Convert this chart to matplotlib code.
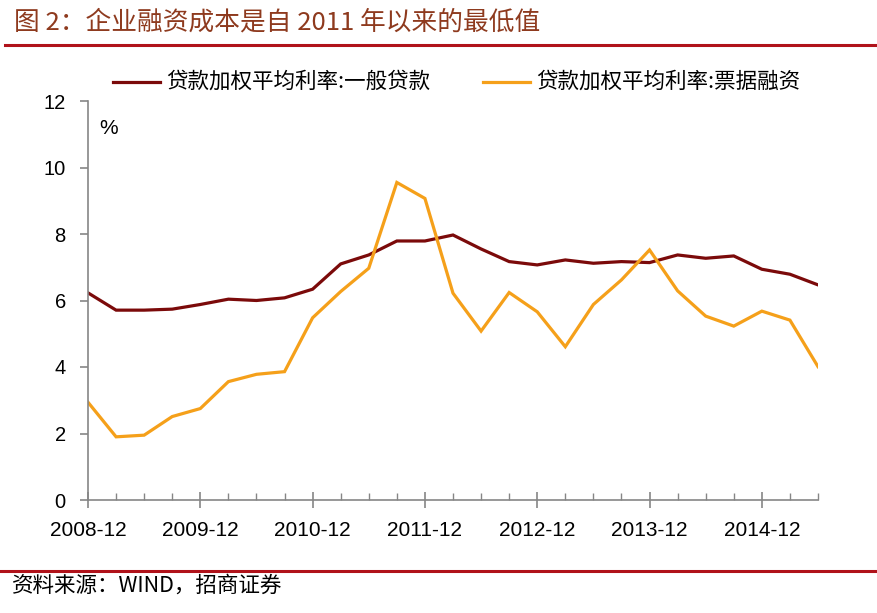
import matplotlib.pyplot as plt
from matplotlib.lines import Line2D
from matplotlib.ticker import MultipleLocator

# quarterly data, 2008-12 .. 2015-06
periods = ['2008-12', '2009-03', '2009-06', '2009-09', '2009-12', '2010-03', '2010-06',
           '2010-09', '2010-12', '2011-03', '2011-06', '2011-09', '2011-12', '2012-03',
           '2012-06', '2012-09', '2012-12', '2013-03', '2013-06', '2013-09', '2013-12',
           '2014-03', '2014-06', '2014-09', '2014-12', '2015-03', '2015-06']
general_loan = [6.23, 5.71, 5.71, 5.74, 5.88, 6.04, 6.00, 6.08, 6.34, 7.10, 7.37, 7.79, 7.79,
                7.97, 7.55, 7.17, 7.07, 7.22, 7.12, 7.17, 7.14, 7.37, 7.27, 7.34, 6.94, 6.79, 6.47]
bill_finance = [2.94, 1.90, 1.95, 2.51, 2.75, 3.56, 3.78, 3.86, 5.48, 6.27, 6.97, 9.55, 9.07,
                6.22, 5.08, 6.24, 5.66, 4.61, 5.88, 6.62, 7.52, 6.29, 5.53, 5.23, 5.68, 5.41, 4.01]
series_names = ['贷款加权平均利率:一般贷款', '贷款加权平均利率:票据融资']

cjk = ['Noto Sans CJK SC', 'DejaVu Sans']
latin = ['Liberation Sans', 'DejaVu Sans']
dark_red = '#7B0A0A'
orange = '#F5A01A'
gray = '#868686'

fig = plt.figure(figsize=(8.77, 6.13), dpi=100)
ax = fig.add_axes([88 / 877, 113 / 613, 730 / 877, 399 / 613])

x = list(range(len(periods)))
ax.plot(x, general_loan, color=dark_red, lw=2.3, solid_joinstyle='miter')
ax.plot(x, bill_finance, color=orange, lw=2.3, solid_joinstyle='miter')

ax.set_xlim(0, len(periods) - 1)
ax.set_ylim(0, 12)
ax.yaxis.set_major_locator(MultipleLocator(2))
ax.set_xticks(x[::4])
ax.set_xticklabels(periods[::4], fontfamily=latin, fontsize=15)
ax.set_xticks(x, minor=True)
for lab in ax.get_yticklabels():
    lab.set_fontfamily(latin)
    lab.set_fontsize(14.5)

for s in ['top', 'right']:
    ax.spines[s].set_visible(False)
for s in ['left', 'bottom']:
    ax.spines[s].set_color(gray)
    ax.spines[s].set_linewidth(1.2)
ax.tick_params(axis='y', direction='out', length=6, width=1.2, color=gray, pad=10)
ax.tick_params(axis='x', which='major', direction='inout', length=12, width=1.2, color=gray, pad=9)
ax.tick_params(axis='x', which='minor', direction='in', length=5, width=1.0, color=gray)

ax.text(0.015, 0.932, '%', transform=ax.transAxes,
        fontfamily=latin, fontsize=15, va='center', ha='left')

# legend drawn manually at top
fig.add_artist(Line2D([113 / 877, 160 / 877], [1 - 82 / 613] * 2, color=dark_red, lw=2.3))
fig.text(166 / 877, 1 - 82 / 613, series_names[0], fontfamily=cjk, fontsize=15.5,
         va='center', ha='left')
fig.add_artist(Line2D([483 / 877, 530 / 877], [1 - 82 / 613] * 2, color=orange, lw=2.3))
fig.text(536 / 877, 1 - 82 / 613, series_names[1], fontfamily=cjk, fontsize=15.5,
         va='center', ha='left')

# title and source with red rules
fig.text(14 / 877, 1 - 22 / 613, '图 2：企业融资成本是自 2011 年以来的最低值', fontfamily=cjk,
         fontsize=18.5, color='#8E3A1E', va='center', ha='left')
fig.add_artist(Line2D([5 / 877, 1.0], [1 - 45 / 613] * 2, color='#B0121A', lw=2.2))
fig.add_artist(Line2D([0, 1.0], [1 - 571 / 613] * 2, color='#B0121A', lw=2.2))
fig.text(12 / 877, 1 - 586 / 613, '资料来源：WIND，招商证券', fontfamily=cjk,
         fontsize=15.5, color='black', va='center', ha='left')

fig.savefig('out.png', dpi=100)
